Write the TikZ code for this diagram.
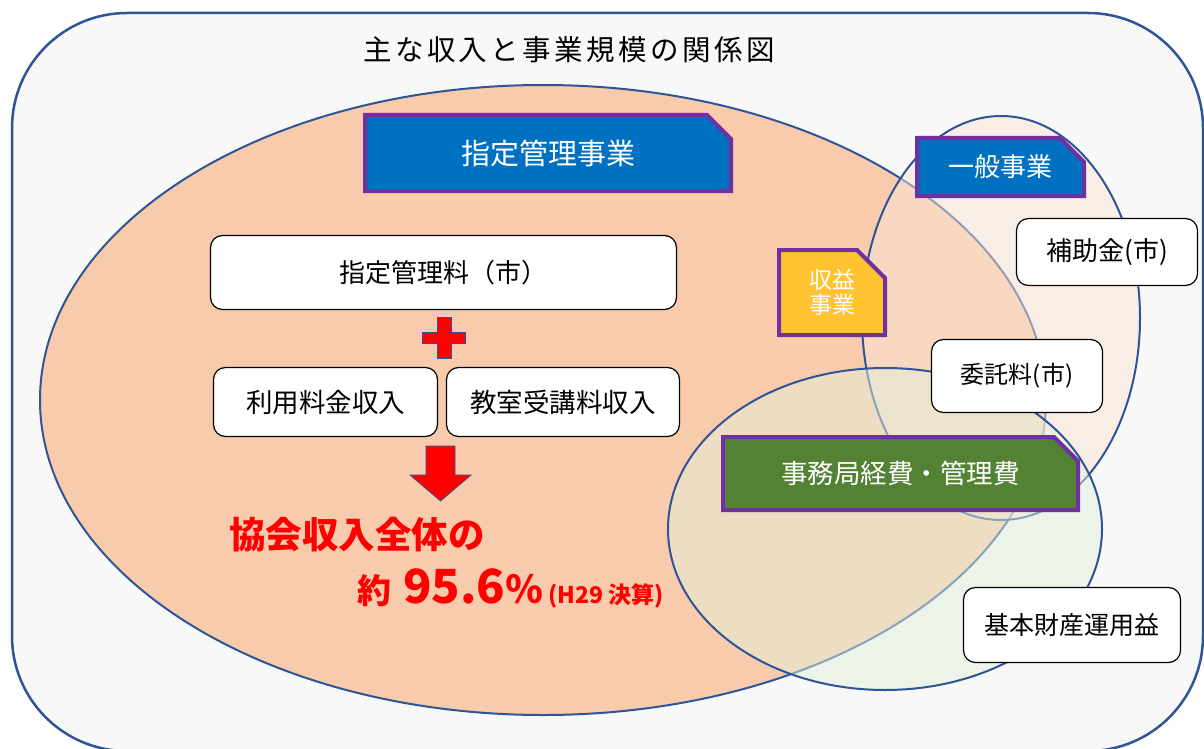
\documentclass[tikz,border=0pt]{standalone}
\usepackage{fontspec}
\usetikzlibrary{shapes.misc}
\newfontfamily\jp{Noto Sans CJK JP}
\newfontfamily\jptitle[LetterSpace=12]{Noto Sans CJK JP}
\definecolor{bgc}{HTML}{F8F8F8}
\definecolor{peach}{HTML}{F8CBAD}
\definecolor{pinkc}{HTML}{FBE5D6}
\definecolor{greenl}{HTML}{E2F0D9}
\definecolor{edgeblue}{HTML}{2F5597}
\definecolor{boxblue}{HTML}{0070C0}
\definecolor{boxpurple}{HTML}{7030A0}
\definecolor{boxyellow}{HTML}{FFC332}
\definecolor{boxgreen}{HTML}{548235}
\definecolor{redc}{HTML}{FF0000}
\tikzset{
  headbox/.style={chamfered rectangle, chamfered rectangle corners=north east,
    chamfered rectangle xsep=12pt, chamfered rectangle ysep=12pt,
    draw=boxpurple, line width=4pt, text=white, inner sep=0pt, font=\jp},
  itembox/.style={draw=black, line width=1.2pt, fill=white, rounded corners=12pt,
    inner sep=0pt, font=\jp, text=black},
  zone/.style={draw=edgeblue, line width=2pt},
  redshape/.style={fill=redc, draw=edgeblue, line width=0.8pt}
}
\begin{document}
\begin{tikzpicture}[x=1pt,y=-1pt]
\useasboundingbox (0,0) rectangle (1204,749);
\clip (0,0) rectangle (1204,749);
\fill[white] (0,0) rectangle (1204,749);
% outer frame
\draw[fill=bgc, draw=edgeblue, line width=2.5pt, rounded corners=115pt] (12,13) rectangle (1203,751);
% zones
\draw[zone, fill=peach] (543,400) ellipse [x radius=503pt, y radius=315pt];
\draw[zone, fill=pinkc, fill opacity=0.5] (1001,318) ellipse [x radius=139pt, y radius=202pt];
\draw[zone, fill=greenl, fill opacity=0.5] (885,529) ellipse [x radius=217pt, y radius=161pt];
% title
\node (title) at (569,50) {\jptitle\fontsize{28.5}{30}\selectfont 主な収入と事業規模の関係図};
% heading boxes
\node[headbox, fill=boxblue, minimum width=366pt, minimum height=76pt] (shitei) at (548,153)
  {\fontsize{29}{32}\selectfont 指定管理事業};
\node[headbox, fill=boxblue, minimum width=167pt, minimum height=58pt] (ippan) at (1000.5,167)
  {\fontsize{26}{30}\selectfont 一般事業};
\node[headbox, fill=boxyellow, minimum width=106pt, minimum height=85pt, align=center,
  chamfered rectangle xsep=14pt, chamfered rectangle ysep=14pt,
  font=\jp\fontsize{23}{25}\selectfont] (shueki) at (832,292.5)
  {収益\\事業};
\node[headbox, fill=boxgreen, minimum width=355pt, minimum height=73pt] (jimu) at (900.5,473.5)
  {\fontsize{26.5}{30}\selectfont 事務局経費・管理費};
% item boxes
\node[itembox, minimum width=466pt, minimum height=74pt] (ryo) at (443.5,272.5)
  {\fontsize{26}{30}\selectfont 指定管理料（市）};
\node[itembox, minimum width=224pt, minimum height=69pt] (riyo) at (325.5,402)
  {\fontsize{26.5}{30}\selectfont 利用料金収入};
\node[itembox, minimum width=233pt, minimum height=69pt] (kyoshitsu) at (563,402)
  {\fontsize{26.5}{30}\selectfont 教室受講料収入};
\node[itembox, minimum width=181pt, minimum height=67pt] (hojo) at (1107,252)
  {\fontsize{26}{30}\selectfont 補助金(市)};
\node[itembox, minimum width=171pt, minimum height=73pt] (itaku) at (1017,376)
  {\fontsize{24}{28}\selectfont 委託料(市)};
\node[itembox, minimum width=217pt, minimum height=75pt] (kihon) at (1072,625)
  {\fontsize{25}{28}\selectfont 基本財産運用益};
% plus sign
\draw[redshape] (437,317) -- (451,317) -- (451,332) -- (465,332) -- (465,343) -- (451,343)
  -- (451,358) -- (437,358) -- (437,343) -- (422,343) -- (422,332) -- (437,332) -- cycle;
% down arrow
\draw[redshape] (426,446) -- (455,446) -- (455,475) -- (471,475) -- (440.5,501)
  -- (410,475) -- (426,475) -- cycle;
% red texts
\node[anchor=west, inner sep=0pt, text=redc, font=\jp\bfseries] (total) at (229,535)
  {\fontsize{36.5}{40}\selectfont 協会収入全体の};
\node[anchor=base west, inner sep=0pt, text=redc, font=\jp\bfseries] (pct) at (357,603)
  {\fontsize{34}{40}\selectfont 約\hspace{12pt}\fontsize{47}{52}\selectfont 95.6\fontsize{38}{42}\selectfont ％\hspace{5pt}\fontsize{23}{26}\selectfont (H29 決算)};
\end{tikzpicture}
\end{document}
